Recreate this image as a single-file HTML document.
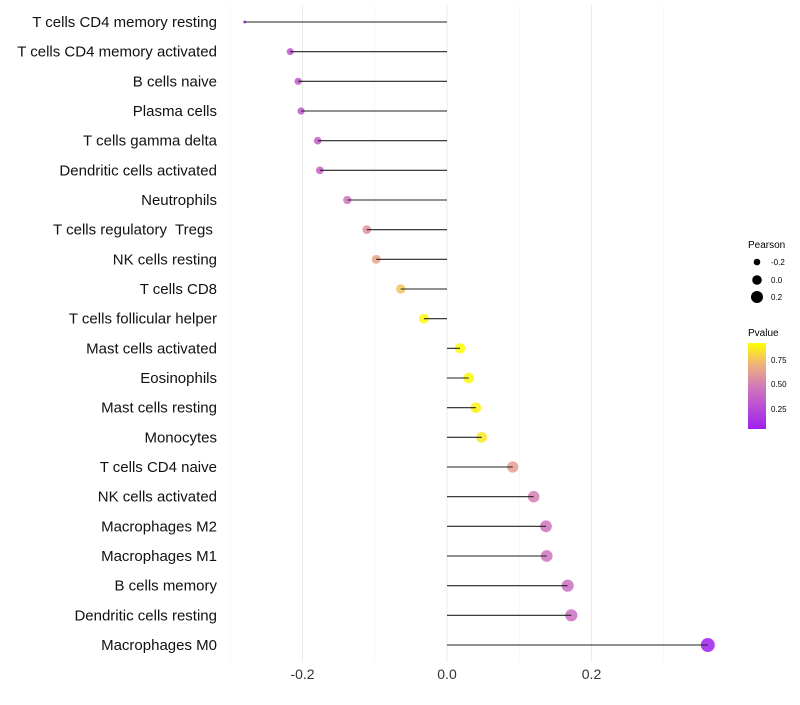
<!DOCTYPE html>
<html><head><meta charset="utf-8"><style>
body{margin:0;background:#fff;font-family:"Liberation Sans",sans-serif}
</style></head><body>
<svg id="chart" width="800" height="700" xmlns="http://www.w3.org/2000/svg" font-family="Liberation Sans, sans-serif">
<defs><linearGradient id="pg" x1="0" y1="1" x2="0" y2="0">
<stop offset="0" stop-color="#a020f0"/><stop offset="0.5" stop-color="#d27ab8"/><stop offset="0.75" stop-color="#eeb27a"/><stop offset="1" stop-color="#ffff00"/></linearGradient></defs>
<g id="grid"></g><g id="points"></g><g id="marks"></g><g id="labels"></g>
<g>
<text x="748" y="248" font-size="10">Pearson</text>
<circle cx="757" cy="262" r="3.3" fill="#000"/>
<text x="771" y="265" font-size="8">-0.2</text>
<circle cx="757" cy="280" r="4.8" fill="#000"/>
<text x="771" y="283" font-size="8">0.0</text>
<circle cx="757" cy="297" r="6" fill="#000"/>
<text x="771" y="300" font-size="8">0.2</text>
<text x="748" y="336" font-size="10">Pvalue</text>
<rect x="748" y="343" width="18" height="86" fill="url(#pg)"/>
<text x="771" y="363" font-size="8">0.75</text>
<text x="771" y="387" font-size="8">0.50</text>
<text x="771" y="412" font-size="8">0.25</text>
</g>
</svg>
<script>
const categories=["T cells CD4 memory resting","T cells CD4 memory activated","B cells naive","Plasma cells","T cells gamma delta","Dendritic cells activated","Neutrophils","T cells regulatory  Tregs ","NK cells resting","T cells CD8","T cells follicular helper","Mast cells activated","Eosinophils","Mast cells resting","Monocytes","T cells CD4 naive","NK cells activated","Macrophages M2","Macrophages M1","B cells memory","Dendritic cells resting","Macrophages M0"];
const pearson=[-0.280,-0.217,-0.206,-0.202,-0.179,-0.176,-0.138,-0.111,-0.098,-0.064,-0.032,0.018,0.030,0.040,0.048,0.091,0.120,0.137,0.138,0.167,0.172,0.361];
const pvalue=[0.08,0.3,0.33,0.33,0.36,0.36,0.45,0.58,0.65,0.75,0.9,0.92,0.9,0.88,0.85,0.62,0.5,0.45,0.45,0.42,0.42,0.05];
const xTicks=[-0.2,0.0,0.2];
const xMinor=[-0.3,-0.1,0.1,0.3];
const NS="http://www.w3.org/2000/svg";
const xs=v=>447+v*722.5;
const ys=i=>22+i*(623/21);
const rs=v=>v<-0.217?Math.sqrt(2.25+160*(v+0.28)):Math.sqrt(12.25+63.6*(v+0.217));
const stops=[[0.05,[160,32,240]],[0.48,[210,122,184]],[0.7,[238,178,122]],[0.92,[255,255,0]]];
function col(p){p=Math.max(0.05,Math.min(0.92,p));for(let k=0;k<stops.length-1;k++){const a=stops[k],b=stops[k+1];if(p<=b[0]){const t=(p-a[0])/(b[0]-a[0]);return "rgb("+a[1].map((c,j)=>Math.round(c+(b[1][j]-c)*t)).join(",")+")";}}return "rgb(255,255,0)";}
function mk(tag,at,parent){const e=document.createElementNS(NS,tag);for(const k in at)e.setAttribute(k,at[k]);document.getElementById(parent).appendChild(e);return e;}
xMinor.forEach(v=>{const l=mk("line",{x1:xs(v),x2:xs(v),y1:5,y2:662,stroke:"#f3f3f3","stroke-width":0.6},"grid");

});
xTicks.forEach(v=>{const l=mk("line",{x1:xs(v),x2:xs(v),y1:5,y2:662,stroke:"#ebebeb","stroke-width":1},"grid");


const t=mk("text",{x:xs(v),y:679,"text-anchor":"middle","font-size":14,fill:"#333"},"labels");t.textContent=v.toFixed(1);

});
categories.forEach((c,i)=>{const y=ys(i);
const t=mk("text",{x:217,y:y+5,"text-anchor":"end","font-size":15,fill:"#111","xml:space":"preserve"},"labels");t.style.whiteSpace="pre";t.textContent=c;


const d=mk("circle",{cx:xs(pearson[i]),cy:y,r:rs(pearson[i]),fill:col(pvalue[i]),"fill-opacity":0.85},"points");


const s=mk("line",{x1:xs(0),x2:xs(pearson[i]),y1:y,y2:y,stroke:"#222","stroke-width":1.1},"marks");

});
</script>
</body></html>
